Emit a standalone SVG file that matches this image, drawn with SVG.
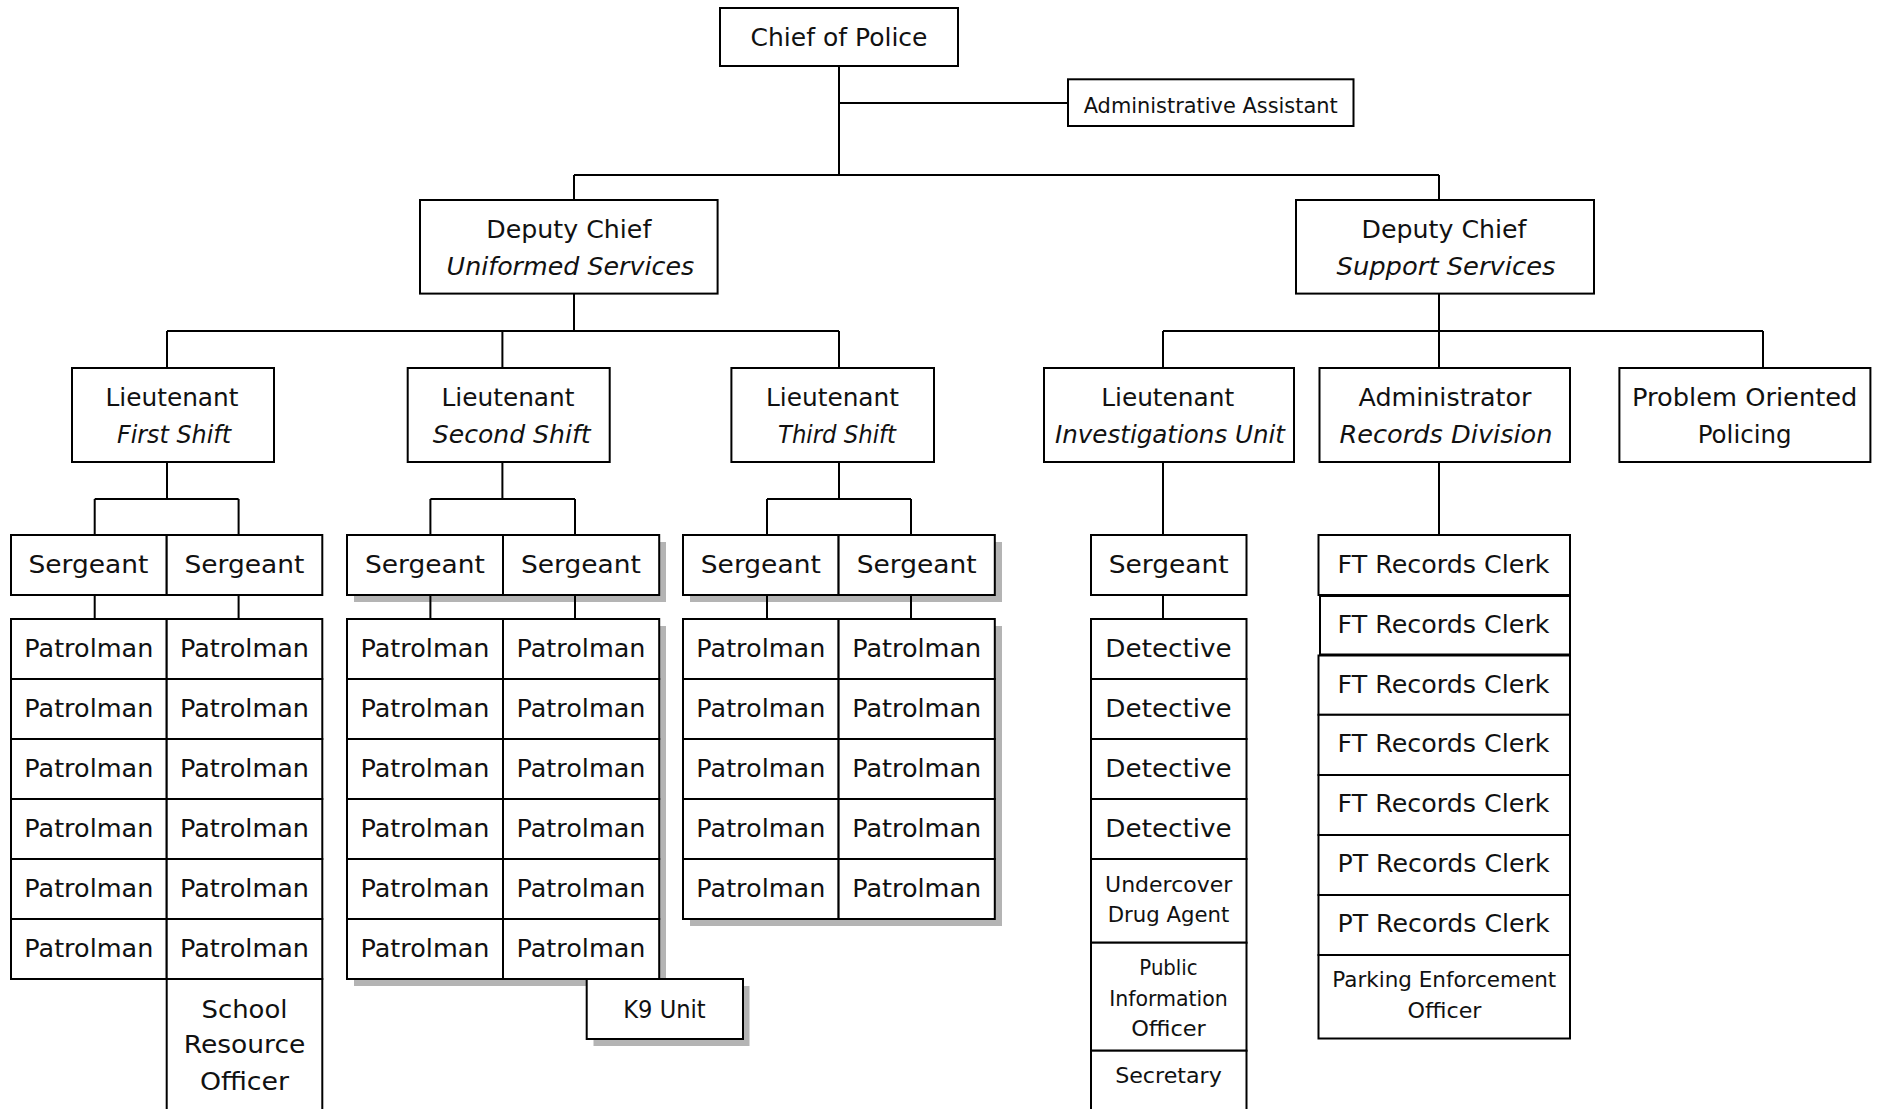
<svg xmlns="http://www.w3.org/2000/svg" width="1877" height="1109" viewBox="0 0 1877 1109">
<style>
.bg{fill:#fff}
.box{fill:#fff;stroke:#000;stroke-width:2}
.sh{fill:#b4b4b4}
.ln{fill:none;stroke:#000;stroke-width:2}
.t{font-family:"DejaVu Sans","Liberation Sans",sans-serif;font-size:25px;text-anchor:middle;fill:#111}
.s{font-size:21px}
.i{font-style:italic}
</style>
<rect class="bg" x="0" y="0" width="1877" height="1109"/>
<g id="shadows">
<rect class="sh" x="354" y="542" width="312" height="60"/>
<rect class="sh" x="354" y="626" width="312" height="360"/>
<rect class="sh" x="593.5" y="986" width="156" height="60"/>
<rect class="sh" x="690" y="542" width="312" height="60"/>
<rect class="sh" x="690" y="626" width="312" height="300"/>
</g>
<g id="connectors">
<path class="ln" d="M839 66V175M839 103H1068M574 175H1439M574 175V200M1439 175V200"/>
<path class="ln" d="M574 294V331M167 331H839M167 331V368M502.4 331V368M839 331V368"/>
<path class="ln" d="M1439 294V331M1163 331H1763M1163 331V368M1439 331V368M1763 331V368"/>
<path class="ln" d="M167 462V499M94.7 499H238.6M94.7 499V535M238.6 499V535"/>
<path class="ln" d="M502.4 462V499M430.4 499H575M430.4 499V535M575 499V535"/>
<path class="ln" d="M839 462V499M767 499H911M767 499V535M911 499V535"/>
<path class="ln" d="M1163 462V535M1439 462V535"/>
<path class="ln" d="M94.7 595V619M238.6 595V619M430.4 595V619M575 595V619M767 595V619M911 595V619M1163 595V619"/>
</g>
<g id="chief"><rect class="box" x="720" y="8" width="238" height="58"/><text class="t" x="839" y="45.5" textLength="177" lengthAdjust="spacingAndGlyphs">Chief of Police</text></g>
<g id="admin-assistant"><rect class="box" x="1068" y="79.3" width="285.5" height="46.7"/><text class="t s" x="1210.7" y="112.5" textLength="254" lengthAdjust="spacingAndGlyphs">Administrative Assistant</text></g>
<g id="dc-uniformed"><rect class="box" x="420" y="200" width="297.6" height="93.6"/><text class="t" x="568.8" y="237.5" textLength="165" lengthAdjust="spacingAndGlyphs">Deputy Chief</text><text class="t i" x="570.4" y="275" textLength="247.6" lengthAdjust="spacingAndGlyphs">Uniformed Services</text></g>
<g id="dc-support"><rect class="box" x="1296" y="200" width="298" height="93.6"/><text class="t" x="1444" y="237.5" textLength="165" lengthAdjust="spacingAndGlyphs">Deputy Chief</text><text class="t i" x="1446" y="275" textLength="219" lengthAdjust="spacingAndGlyphs">Support Services</text></g>
<g id="lt-first"><rect class="box" x="72" y="368" width="202" height="94"/><text class="t" x="172" y="406.4" textLength="133" lengthAdjust="spacingAndGlyphs">Lieutenant</text><text class="t i" x="174" y="443" textLength="114" lengthAdjust="spacingAndGlyphs">First Shift</text></g>
<g id="lt-second"><rect class="box" x="407.7" y="368" width="202" height="94"/><text class="t" x="508" y="406.4" textLength="133" lengthAdjust="spacingAndGlyphs">Lieutenant</text><text class="t i" x="511.7" y="443" textLength="157.7" lengthAdjust="spacingAndGlyphs">Second Shift</text></g>
<g id="lt-third"><rect class="box" x="731.4" y="368" width="202.6" height="94"/><text class="t" x="832.5" y="406.4" textLength="133" lengthAdjust="spacingAndGlyphs">Lieutenant</text><text class="t i" x="837" y="443" textLength="118" lengthAdjust="spacingAndGlyphs">Third Shift</text></g>
<g id="lt-investigations"><rect class="box" x="1044" y="368" width="250" height="94"/><text class="t" x="1167.7" y="406.4" textLength="133" lengthAdjust="spacingAndGlyphs">Lieutenant</text><text class="t i" x="1170" y="443" textLength="230" lengthAdjust="spacingAndGlyphs">Investigations Unit</text></g>
<g id="administrator"><rect class="box" x="1319.5" y="368" width="250.5" height="94"/><text class="t" x="1445" y="406.4" textLength="173" lengthAdjust="spacingAndGlyphs">Administrator</text><text class="t i" x="1446" y="443" textLength="213" lengthAdjust="spacingAndGlyphs">Records Division</text></g>
<g id="problem-oriented"><rect class="box" x="1619.4" y="368" width="251" height="94"/><text class="t" x="1744.7" y="406.4" textLength="225.3" lengthAdjust="spacingAndGlyphs">Problem Oriented</text><text class="t" x="1744.7" y="443" textLength="94" lengthAdjust="spacingAndGlyphs">Policing</text></g>
<g id="sgt-1a"><rect class="box" x="11" y="535" width="155.7" height="60"/><text class="t" x="88.5" y="573" textLength="120" lengthAdjust="spacingAndGlyphs">Sergeant</text></g>
<g id="sgt-1b"><rect class="box" x="166.7" y="535" width="155.6" height="60"/><text class="t" x="244.5" y="573" textLength="120" lengthAdjust="spacingAndGlyphs">Sergeant</text></g>
<g id="sgt-2a"><rect class="box" x="347" y="535" width="156" height="60"/><text class="t" x="425" y="573" textLength="120" lengthAdjust="spacingAndGlyphs">Sergeant</text></g>
<g id="sgt-2b"><rect class="box" x="503" y="535" width="156.2" height="60"/><text class="t" x="581" y="573" textLength="120" lengthAdjust="spacingAndGlyphs">Sergeant</text></g>
<g id="sgt-3a"><rect class="box" x="683" y="535" width="155.6" height="60"/><text class="t" x="760.8" y="573" textLength="120" lengthAdjust="spacingAndGlyphs">Sergeant</text></g>
<g id="sgt-3b"><rect class="box" x="838.6" y="535" width="156.2" height="60"/><text class="t" x="916.7" y="573" textLength="120" lengthAdjust="spacingAndGlyphs">Sergeant</text></g>
<g id="sgt-inv"><rect class="box" x="1091" y="535" width="155.5" height="60"/><text class="t" x="1168.7" y="573" textLength="120" lengthAdjust="spacingAndGlyphs">Sergeant</text></g>
<g id="patrol-1">
<g id="p1a1"><rect class="box" x="11" y="619" width="155.7" height="60"/><text class="t" x="88.8" y="656.5" textLength="129" lengthAdjust="spacingAndGlyphs">Patrolman</text></g>
<g id="p1b1"><rect class="box" x="166.7" y="619" width="155.6" height="60"/><text class="t" x="244.5" y="656.5" textLength="129" lengthAdjust="spacingAndGlyphs">Patrolman</text></g>
<g id="p1a2"><rect class="box" x="11" y="679" width="155.7" height="60"/><text class="t" x="88.8" y="716.5" textLength="129" lengthAdjust="spacingAndGlyphs">Patrolman</text></g>
<g id="p1b2"><rect class="box" x="166.7" y="679" width="155.6" height="60"/><text class="t" x="244.5" y="716.5" textLength="129" lengthAdjust="spacingAndGlyphs">Patrolman</text></g>
<g id="p1a3"><rect class="box" x="11" y="739" width="155.7" height="60"/><text class="t" x="88.8" y="776.5" textLength="129" lengthAdjust="spacingAndGlyphs">Patrolman</text></g>
<g id="p1b3"><rect class="box" x="166.7" y="739" width="155.6" height="60"/><text class="t" x="244.5" y="776.5" textLength="129" lengthAdjust="spacingAndGlyphs">Patrolman</text></g>
<g id="p1a4"><rect class="box" x="11" y="799" width="155.7" height="60"/><text class="t" x="88.8" y="836.5" textLength="129" lengthAdjust="spacingAndGlyphs">Patrolman</text></g>
<g id="p1b4"><rect class="box" x="166.7" y="799" width="155.6" height="60"/><text class="t" x="244.5" y="836.5" textLength="129" lengthAdjust="spacingAndGlyphs">Patrolman</text></g>
<g id="p1a5"><rect class="box" x="11" y="859" width="155.7" height="60"/><text class="t" x="88.8" y="896.5" textLength="129" lengthAdjust="spacingAndGlyphs">Patrolman</text></g>
<g id="p1b5"><rect class="box" x="166.7" y="859" width="155.6" height="60"/><text class="t" x="244.5" y="896.5" textLength="129" lengthAdjust="spacingAndGlyphs">Patrolman</text></g>
<g id="p1a6"><rect class="box" x="11" y="919" width="155.7" height="60"/><text class="t" x="88.8" y="956.5" textLength="129" lengthAdjust="spacingAndGlyphs">Patrolman</text></g>
<g id="p1b6"><rect class="box" x="166.7" y="919" width="155.6" height="60"/><text class="t" x="244.5" y="956.5" textLength="129" lengthAdjust="spacingAndGlyphs">Patrolman</text></g>
</g>
<g id="school-resource-officer"><rect class="box" x="166.7" y="979" width="155.6" height="150"/><text class="t" x="244.5" y="1017.7" textLength="86" lengthAdjust="spacingAndGlyphs">School</text><text class="t" x="244.5" y="1053.4" textLength="121.7" lengthAdjust="spacingAndGlyphs">Resource</text><text class="t" x="244.5" y="1089.5" textLength="89.2" lengthAdjust="spacingAndGlyphs">Officer</text></g>
<g id="patrol-2">
<g id="p2a1"><rect class="box" x="347" y="619" width="156" height="60"/><text class="t" x="425" y="656.5" textLength="129" lengthAdjust="spacingAndGlyphs">Patrolman</text></g>
<g id="p2b1"><rect class="box" x="503" y="619" width="156.2" height="60"/><text class="t" x="581" y="656.5" textLength="129" lengthAdjust="spacingAndGlyphs">Patrolman</text></g>
<g id="p2a2"><rect class="box" x="347" y="679" width="156" height="60"/><text class="t" x="425" y="716.5" textLength="129" lengthAdjust="spacingAndGlyphs">Patrolman</text></g>
<g id="p2b2"><rect class="box" x="503" y="679" width="156.2" height="60"/><text class="t" x="581" y="716.5" textLength="129" lengthAdjust="spacingAndGlyphs">Patrolman</text></g>
<g id="p2a3"><rect class="box" x="347" y="739" width="156" height="60"/><text class="t" x="425" y="776.5" textLength="129" lengthAdjust="spacingAndGlyphs">Patrolman</text></g>
<g id="p2b3"><rect class="box" x="503" y="739" width="156.2" height="60"/><text class="t" x="581" y="776.5" textLength="129" lengthAdjust="spacingAndGlyphs">Patrolman</text></g>
<g id="p2a4"><rect class="box" x="347" y="799" width="156" height="60"/><text class="t" x="425" y="836.5" textLength="129" lengthAdjust="spacingAndGlyphs">Patrolman</text></g>
<g id="p2b4"><rect class="box" x="503" y="799" width="156.2" height="60"/><text class="t" x="581" y="836.5" textLength="129" lengthAdjust="spacingAndGlyphs">Patrolman</text></g>
<g id="p2a5"><rect class="box" x="347" y="859" width="156" height="60"/><text class="t" x="425" y="896.5" textLength="129" lengthAdjust="spacingAndGlyphs">Patrolman</text></g>
<g id="p2b5"><rect class="box" x="503" y="859" width="156.2" height="60"/><text class="t" x="581" y="896.5" textLength="129" lengthAdjust="spacingAndGlyphs">Patrolman</text></g>
<g id="p2a6"><rect class="box" x="347" y="919" width="156" height="60"/><text class="t" x="425" y="956.5" textLength="129" lengthAdjust="spacingAndGlyphs">Patrolman</text></g>
<g id="p2b6"><rect class="box" x="503" y="919" width="156.2" height="60"/><text class="t" x="581" y="956.5" textLength="129" lengthAdjust="spacingAndGlyphs">Patrolman</text></g>
</g>
<g id="k9-unit"><rect class="box" x="586.7" y="979" width="156.3" height="60"/><text class="t" x="664.5" y="1017.7" textLength="82.4" lengthAdjust="spacingAndGlyphs">K9 Unit</text></g>
<g id="patrol-3">
<g id="p3a1"><rect class="box" x="683" y="619" width="155.6" height="60"/><text class="t" x="760.8" y="656.5" textLength="129" lengthAdjust="spacingAndGlyphs">Patrolman</text></g>
<g id="p3b1"><rect class="box" x="838.6" y="619" width="156.2" height="60"/><text class="t" x="916.7" y="656.5" textLength="129" lengthAdjust="spacingAndGlyphs">Patrolman</text></g>
<g id="p3a2"><rect class="box" x="683" y="679" width="155.6" height="60"/><text class="t" x="760.8" y="716.5" textLength="129" lengthAdjust="spacingAndGlyphs">Patrolman</text></g>
<g id="p3b2"><rect class="box" x="838.6" y="679" width="156.2" height="60"/><text class="t" x="916.7" y="716.5" textLength="129" lengthAdjust="spacingAndGlyphs">Patrolman</text></g>
<g id="p3a3"><rect class="box" x="683" y="739" width="155.6" height="60"/><text class="t" x="760.8" y="776.5" textLength="129" lengthAdjust="spacingAndGlyphs">Patrolman</text></g>
<g id="p3b3"><rect class="box" x="838.6" y="739" width="156.2" height="60"/><text class="t" x="916.7" y="776.5" textLength="129" lengthAdjust="spacingAndGlyphs">Patrolman</text></g>
<g id="p3a4"><rect class="box" x="683" y="799" width="155.6" height="60"/><text class="t" x="760.8" y="836.5" textLength="129" lengthAdjust="spacingAndGlyphs">Patrolman</text></g>
<g id="p3b4"><rect class="box" x="838.6" y="799" width="156.2" height="60"/><text class="t" x="916.7" y="836.5" textLength="129" lengthAdjust="spacingAndGlyphs">Patrolman</text></g>
<g id="p3a5"><rect class="box" x="683" y="859" width="155.6" height="60"/><text class="t" x="760.8" y="896.5" textLength="129" lengthAdjust="spacingAndGlyphs">Patrolman</text></g>
<g id="p3b5"><rect class="box" x="838.6" y="859" width="156.2" height="60"/><text class="t" x="916.7" y="896.5" textLength="129" lengthAdjust="spacingAndGlyphs">Patrolman</text></g>
</g>
<g id="investigations-staff">
<g id="det1"><rect class="box" x="1091" y="619" width="155.5" height="60"/><text class="t" x="1168.5" y="656.5" textLength="126.3" lengthAdjust="spacingAndGlyphs">Detective</text></g>
<g id="det2"><rect class="box" x="1091" y="679" width="155.5" height="60"/><text class="t" x="1168.5" y="716.5" textLength="126.3" lengthAdjust="spacingAndGlyphs">Detective</text></g>
<g id="det3"><rect class="box" x="1091" y="739" width="155.5" height="60"/><text class="t" x="1168.5" y="776.5" textLength="126.3" lengthAdjust="spacingAndGlyphs">Detective</text></g>
<g id="det4"><rect class="box" x="1091" y="799" width="155.5" height="60"/><text class="t" x="1168.5" y="836.5" textLength="126.3" lengthAdjust="spacingAndGlyphs">Detective</text></g>
<g id="undercover"><rect class="box" x="1091" y="859" width="155.5" height="83.7"/><text class="t s" x="1168.7" y="891.7" textLength="127.3" lengthAdjust="spacingAndGlyphs">Undercover</text><text class="t s" x="1168.5" y="921.7" textLength="121.6" lengthAdjust="spacingAndGlyphs">Drug Agent</text></g>
<g id="public-info"><rect class="box" x="1091" y="942.7" width="155.5" height="108"/><text class="t s" x="1168.5" y="975" textLength="58.3" lengthAdjust="spacingAndGlyphs">Public</text><text class="t s" x="1168.5" y="1005.7" textLength="118.7" lengthAdjust="spacingAndGlyphs">Information</text><text class="t s" x="1168.5" y="1035.7" textLength="74.7" lengthAdjust="spacingAndGlyphs">Officer</text></g>
<g id="secretary"><rect class="box" x="1091" y="1050.7" width="155.5" height="80"/><text class="t s" x="1168.5" y="1082.7" textLength="106.7" lengthAdjust="spacingAndGlyphs">Secretary</text></g>
</g>
<g id="records-staff">
<g id="ft1"><rect class="box" x="1318.5" y="535" width="251.5" height="60"/><text class="t" x="1443.5" y="572.5" textLength="212" lengthAdjust="spacingAndGlyphs">FT Records Clerk</text></g>
<g id="ft2"><rect class="box" x="1320" y="596" width="250" height="58.5"/><text class="t" x="1443.5" y="632.5" textLength="212" lengthAdjust="spacingAndGlyphs">FT Records Clerk</text></g>
<g id="ft3"><rect class="box" x="1318.5" y="655.5" width="251.5" height="59.3"/><text class="t" x="1443.5" y="692.5" textLength="212" lengthAdjust="spacingAndGlyphs">FT Records Clerk</text></g>
<g id="ft4"><rect class="box" x="1318.5" y="714.8" width="251.5" height="60.2"/><text class="t" x="1443.5" y="752" textLength="212" lengthAdjust="spacingAndGlyphs">FT Records Clerk</text></g>
<g id="ft5"><rect class="box" x="1318.5" y="775" width="251.5" height="60"/><text class="t" x="1443.5" y="812" textLength="212" lengthAdjust="spacingAndGlyphs">FT Records Clerk</text></g>
<g id="pt1"><rect class="box" x="1318.5" y="835" width="251.5" height="60"/><text class="t" x="1443.5" y="871.7" textLength="212" lengthAdjust="spacingAndGlyphs">PT Records Clerk</text></g>
<g id="pt2"><rect class="box" x="1318.5" y="895" width="251.5" height="60"/><text class="t" x="1443.5" y="931.7" textLength="212" lengthAdjust="spacingAndGlyphs">PT Records Clerk</text></g>
<g id="parking"><rect class="box" x="1318.5" y="955" width="251.5" height="83.5"/><text class="t s" x="1444.3" y="987" textLength="224" lengthAdjust="spacingAndGlyphs">Parking Enforcement</text><text class="t s" x="1444.5" y="1017.5" textLength="74" lengthAdjust="spacingAndGlyphs">Officer</text></g>
</g>
</svg>
